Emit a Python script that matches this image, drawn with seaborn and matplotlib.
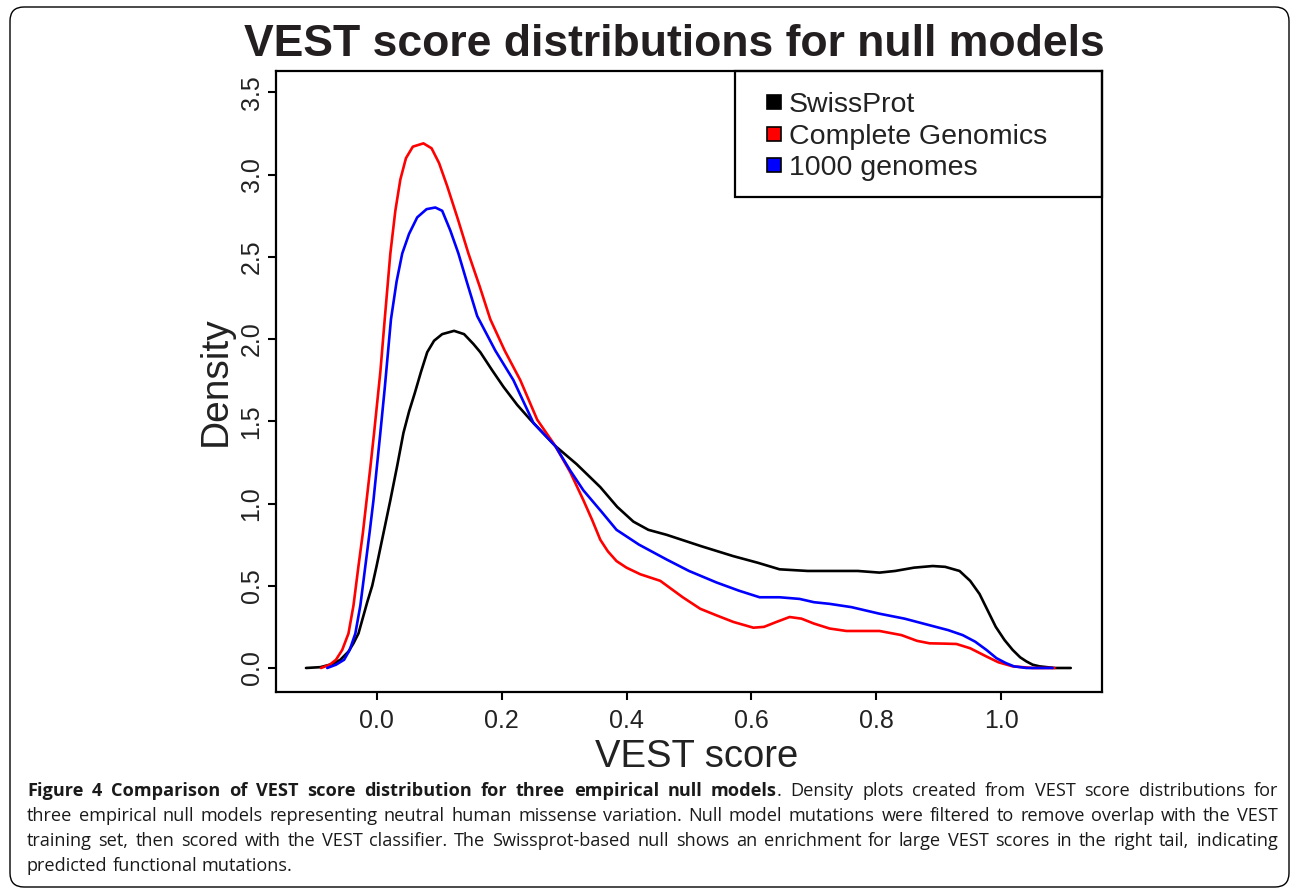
import matplotlib
matplotlib.use("Agg")
import matplotlib.pyplot as plt
import matplotlib.patches as mpatches
import matplotlib.transforms as mtransforms
from matplotlib.lines import Line2D
import pandas as pd
import seaborn as sns

# density curves (VEST score, density)
swiss_x = [-0.113, -0.09, -0.07, -0.058, -0.045, -0.037, -0.029, -0.015, -0.007, 0.0, 0.011, 0.022,
           0.033, 0.043, 0.052, 0.061, 0.071, 0.081, 0.092, 0.105, 0.124, 0.14, 0.155, 0.166,
           0.185, 0.203, 0.225, 0.246, 0.286, 0.32, 0.358, 0.385, 0.411, 0.435, 0.464, 0.52,
           0.571, 0.61, 0.645, 0.69, 0.725, 0.77, 0.805, 0.83, 0.86, 0.89, 0.91, 0.933,
           0.95, 0.965, 0.978, 0.991, 1.005, 1.018, 1.03, 1.04, 1.05, 1.061, 1.085, 1.111]
swiss_y = [0.0, 0.005, 0.025, 0.05, 0.10, 0.15, 0.21, 0.40, 0.50, 0.62, 0.82, 1.02,
           1.23, 1.43, 1.56, 1.67, 1.80, 1.92, 1.99, 2.03, 2.05, 2.03, 1.97, 1.92,
           1.81, 1.71, 1.60, 1.51, 1.35, 1.24, 1.10, 0.98, 0.89, 0.84, 0.81, 0.74,
           0.68, 0.64, 0.60, 0.59, 0.59, 0.59, 0.58, 0.59, 0.61, 0.62, 0.615, 0.59,
           0.53, 0.45, 0.35, 0.25, 0.17, 0.11, 0.065, 0.04, 0.02, 0.01, 0.0, 0.0]

cg_x = [-0.089, -0.075, -0.065, -0.055, -0.045, -0.037, -0.029, -0.022, -0.016, -0.010, -0.004, 0.006,
        0.013, 0.022, 0.030, 0.038, 0.047, 0.058, 0.075, 0.088, 0.100, 0.113, 0.13, 0.147,
        0.165, 0.182, 0.205, 0.230, 0.257, 0.286, 0.31, 0.331, 0.345, 0.358, 0.37, 0.384,
        0.40, 0.422, 0.454, 0.49, 0.518, 0.544, 0.571, 0.603, 0.62, 0.64, 0.661, 0.68,
        0.70, 0.725, 0.752, 0.78, 0.805, 0.84, 0.865, 0.885, 0.91, 0.928, 0.95, 0.976,
        0.995, 1.018, 1.05, 1.085]
cg_y = [0.0, 0.02, 0.05, 0.11, 0.21, 0.38, 0.62, 0.82, 1.02, 1.22, 1.43, 1.80,
        2.12, 2.52, 2.78, 2.97, 3.10, 3.17, 3.19, 3.16, 3.07, 2.93, 2.73, 2.52,
        2.32, 2.12, 1.93, 1.75, 1.51, 1.35, 1.19, 1.02, 0.90, 0.78, 0.71, 0.65,
        0.61, 0.57, 0.53, 0.43, 0.36, 0.32, 0.28, 0.245, 0.25, 0.28, 0.31, 0.30,
        0.27, 0.24, 0.225, 0.225, 0.225, 0.20, 0.165, 0.15, 0.148, 0.146, 0.12, 0.07,
        0.035, 0.01, 0.0, 0.0]

kg_x = [-0.079, -0.065, -0.052, -0.043, -0.034, -0.026, -0.018, -0.011, -0.005, 0.006, 0.013, 0.023,
        0.032, 0.041, 0.052, 0.065, 0.08, 0.094, 0.105, 0.118, 0.131, 0.145, 0.161, 0.19,
        0.219, 0.235, 0.251, 0.286, 0.31, 0.331, 0.36, 0.384, 0.42, 0.464, 0.50, 0.544,
        0.58, 0.613, 0.645, 0.677, 0.70, 0.725, 0.76, 0.805, 0.845, 0.885, 0.915, 0.938,
        0.958, 0.976, 0.992, 1.007, 1.02, 1.04, 1.082]
kg_y = [0.0, 0.02, 0.05, 0.11, 0.21, 0.38, 0.62, 0.83, 1.02, 1.43, 1.70, 2.12,
        2.35, 2.52, 2.64, 2.74, 2.79, 2.80, 2.78, 2.66, 2.52, 2.34, 2.14, 1.93,
        1.75, 1.62, 1.49, 1.35, 1.20, 1.08, 0.95, 0.84, 0.75, 0.66, 0.59, 0.52,
        0.47, 0.43, 0.43, 0.42, 0.40, 0.39, 0.37, 0.33, 0.30, 0.26, 0.23, 0.20,
        0.16, 0.11, 0.06, 0.03, 0.01, 0.0, 0.0]

series_names = ["SwissProt", "Complete Genomics", "1000 genomes"]
series_colors = ["black", "red", "blue"]

x_ticks = [0.0, 0.2, 0.4, 0.6, 0.8, 1.0]
y_ticks = [0.0, 0.5, 1.0, 1.5, 2.0, 2.5, 3.0, 3.5]

caption_lines = [
    [("Figure 4 Comparison of VEST score distribution for three empirical null models", "bold"),
     (". Density plots created from VEST score distributions for", "normal")],
    [("three empirical null models representing neutral human missense variation. Null model "
      "mutations were filtered to remove overlap with the VEST", "normal")],
    [("training set, then scored with the VEST classifier. The Swissprot-based null shows an "
      "enrichment for large VEST scores in the right tail, indicating", "normal")],
    [("predicted functional mutations.", "normal")],
]

frames = []
for name, xs, ys in zip(series_names, [swiss_x, cg_x, kg_x], [swiss_y, cg_y, kg_y]):
    frames.append(pd.DataFrame({"score": xs, "density": ys, "model": name}))
df = pd.concat(frames, ignore_index=True)

sns.set_style("white")
plt.rcParams["font.family"] = ["Liberation Sans", "DejaVu Sans"]

W, H = 1292, 890
fig = plt.figure(figsize=(W / 100, H / 100), dpi=100)
ax = fig.add_axes([276 / W, 1 - 692 / H, (1102 - 276) / W, (692 - 71) / H])

sns.lineplot(data=df, x="score", y="density", hue="model", hue_order=series_names,
             palette=series_colors, linewidth=1.9, sort=False, estimator=None,
             legend=False, ax=ax)
for ln in ax.get_lines():
    ln.set_solid_joinstyle("round")
    ln.set_solid_capstyle("round")

ax.set_xlim(-0.161, 1.161)
ax.set_ylim(-0.146, 3.63)
ax.set_xticks(x_ticks)
ax.set_xticklabels([f"{t:.1f}" for t in x_ticks])
ax.set_yticks(y_ticks)
ax.set_yticklabels([f"{t:.1f}" for t in y_ticks], rotation=90, va="center")
ax.tick_params(axis="both", direction="out", length=6, width=1.5, color="black",
               labelsize=18, labelcolor="#222222", left=True, bottom=True)
ax.tick_params(axis="x", pad=6)
ax.tick_params(axis="y", pad=3)
for sp in ax.spines.values():
    sp.set_color("black")
    sp.set_linewidth(1.6)
ax.set_xlabel("VEST score", fontsize=27.5, color="#222222", labelpad=0)
ax.set_ylabel("Density", fontsize=28, color="#222222", labelpad=4)
ax.xaxis.set_label_coords((697 - 276) / 826, -0.075)

fig.text(674 / W, 1 - 45 / H, "VEST score distributions for null models", ha="center",
         va="center", fontsize=32, fontweight="bold", color="#231f20")

# legend: keys + labels without frame, plus a box like R's legend()
handles = [Line2D([0], [0], marker="s", linestyle="none", markersize=10,
                  markerfacecolor=c, markeredgecolor="black", markeredgewidth=1.2)
           for c in series_colors]
leg = ax.legend(handles, series_names, loc="upper left",
                bbox_to_anchor=(766 / W, 1 - 92 / H), bbox_transform=fig.transFigure,
                borderaxespad=0, borderpad=0, fontsize=20.5, frameon=False,
                handlelength=0.55, handletextpad=0.25, labelspacing=0.2)
for t in leg.get_texts():
    t.set_color("#222222")
leg_box = mpatches.Rectangle(((735 - 276) / 826, (692 - 197) / 621), (1102 - 735) / 826,
                             (197 - 71) / 621, transform=ax.transAxes, fill=False,
                             edgecolor="black", linewidth=1.6, clip_on=False, zorder=5)
ax.add_patch(leg_box)

# rounded frame around the whole figure
border = mpatches.FancyBboxPatch((10, 3), 1279, 880,
                                 boxstyle="round,pad=0,rounding_size=14",
                                 transform=mtransforms.IdentityTransform(),
                                 fill=False, edgecolor="black", linewidth=1.0)
fig.patches.append(border)

# justified caption
fig.canvas.draw()
renderer = fig.canvas.get_renderer()
cap_left, cap_right = 27, 1278
line_y = [791, 816, 841, 866]
cap_font = ["Open Sans", "DejaVu Sans"]
cap_size = 13.1
probe1 = fig.text(0, 0, "a b", fontsize=cap_size, family=cap_font)
probe2 = fig.text(0, 0, "ab", fontsize=cap_size, family=cap_font)
space = probe1.get_window_extent(renderer).width - probe2.get_window_extent(renderer).width
probe1.remove()
probe2.remove()
for li, (segments, yy) in enumerate(zip(caption_lines, line_y)):
    tokens = []
    for text, weight in segments:
        words = text.split(" ")
        for wi, w in enumerate(words):
            if w == "":
                continue
            glue = bool(wi == 0 and tokens)
            tokens.append([w, weight, glue])
    objs = []
    for w, weight, glue in tokens:
        t = fig.text(0, 1 - yy / H, w, fontsize=cap_size, fontweight=weight, family=cap_font,
                     color="#1a1a1a", va="center", ha="left")
        objs.append(t)
    widths = [o.get_window_extent(renderer).width for o in objs]
    n_gaps = sum(1 for tk in tokens[1:] if not tk[2])
    if li < len(caption_lines) - 1 and n_gaps > 0:
        gap = (cap_right - cap_left - sum(widths)) / n_gaps
    else:
        gap = space
    x = cap_left
    for i, (o, wdt) in enumerate(zip(objs, widths)):
        if i > 0 and not tokens[i][2]:
            x += gap
        o.set_x(x / W)
        x += wdt

fig.savefig("out.png", dpi=100)
